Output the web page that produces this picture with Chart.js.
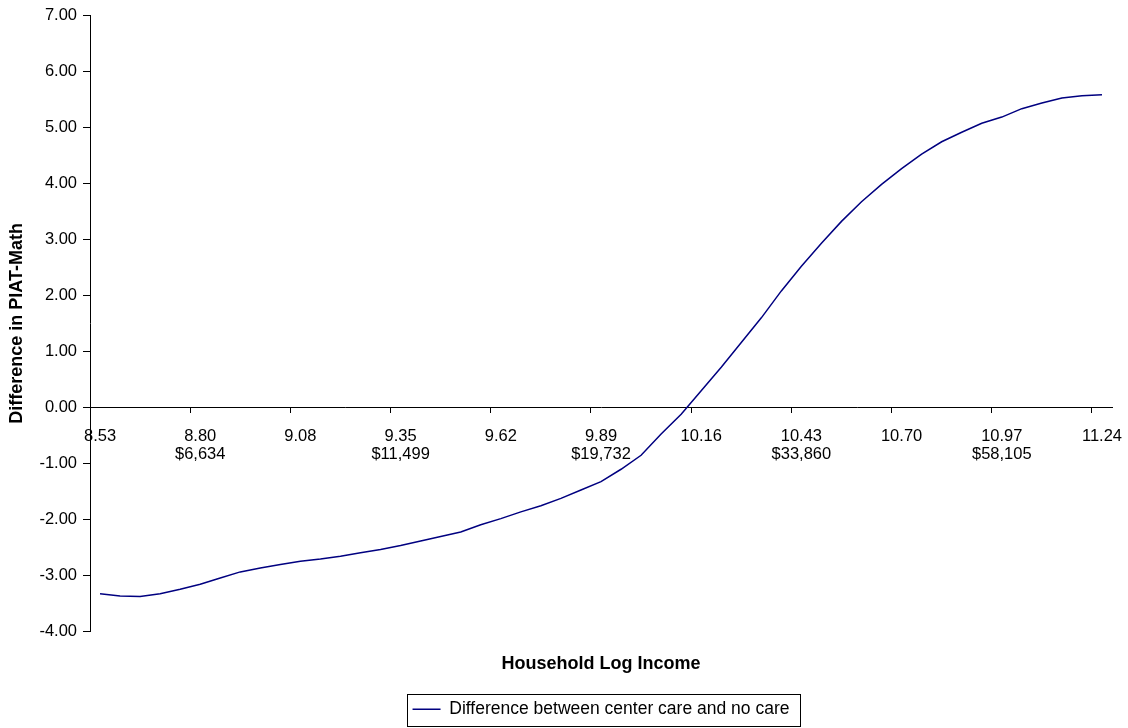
<!DOCTYPE html>
<html>
<head>
<meta charset="utf-8">
<title>Difference in PIAT-Math by Household Log Income</title>
<script src="https://cdn.jsdelivr.net/npm/chart.js@4.4.1/dist/chart.umd.min.js"></script>
<style>
    html, body { margin: 0; padding: 0; background: #fff; }
    #wrap { width: 1128px; height: 728px; }
</style>
</head>
<body>
<div id="wrap"><canvas id="chart" width="1128" height="728"></canvas></div>
<script>
// Tick labels shown every 5th category
const logIncomeTicks = ['8.53', '8.80', '9.08', '9.35', '9.62', '9.89', '10.16', '10.43', '10.70', '10.97', '11.24'];
const dollarTicks = ['', '$6,634', '', '$11,499', '', '$19,732', '', '$33,860', '', '$58,105', ''];

// Difference between center care and no care (51 points)
const diffValues = [
    -3.32, -3.36, -3.37, -3.32, -3.24, -3.15, -3.04, -2.93, -2.86, -2.80,
    -2.74, -2.70, -2.65, -2.59, -2.53, -2.46, -2.38, -2.30, -2.22, -2.09,
    -1.98, -1.86, -1.75, -1.62, -1.47, -1.32, -1.10, -0.85, -0.47, -0.12,
    0.30, 0.72, 1.16, 1.60, 2.08, 2.52, 2.93, 3.32, 3.67, 3.98,
    4.26, 4.52, 4.74, 4.91, 5.07, 5.18, 5.33, 5.43, 5.52, 5.56,
    5.58
];

const FONT = "'Liberation Sans', Arial, sans-serif";
const TICK_EVERY = 5;

// Draw the thin frame around the legend, like the original
const legendFrame = {
    id: 'legendFrame',
    afterDraw(chart) {
        const legend = chart.legend;
        if (!legend || !legend.legendHitBoxes || !legend.legendHitBoxes.length) return;
        const hb = legend.legendHitBoxes[0];
        const ctx = chart.ctx;
        ctx.save();
        ctx.strokeStyle = '#000';
        ctx.lineWidth = 1;
        const x = Math.round(hb.left - 6) + 0.5;
        const y = Math.round(hb.top - 7) + 0.5;
        const w = Math.round(hb.width + 16);
        const h = Math.round(hb.height + 14);
        ctx.strokeRect(x, y, w, h);
        ctx.restore();
    }
};

const ctx = document.getElementById('chart').getContext('2d');

new Chart(ctx, {
    type: 'line',
    data: {
        labels: diffValues.map((_, i) => i),
        datasets: [{
            label: 'Difference between center care and no care',
            data: diffValues,
            borderColor: '#000080',
            backgroundColor: '#000080',
            borderWidth: 1.5,
            pointRadius: 0,
            pointHoverRadius: 0,
            tension: 0,
            fill: false
        }]
    },
    options: {
        responsive: false,
        animation: false,
        events: [],
        layout: {
            padding: { left: 0, right: 16, top: 15, bottom: 0 }
        },
        plugins: {
            legend: {
                position: 'bottom',
                fullSize: false,
                labels: {
                    usePointStyle: true,
                    pointStyle: 'line',
                    pointStyleWidth: 28,
                    padding: 10,
                    color: '#000',
                    font: { family: FONT, size: 17.5 }
                }
            },
            title: {
                display: true,
                position: 'bottom',
                fullSize: false,
                weight: 500,
                text: 'Household Log Income',
                color: '#000',
                font: { family: FONT, size: 18, weight: 'bold', lineHeight: 1.2 },
                padding: { top: 21, bottom: 16 }
            },
            tooltip: { enabled: false }
        },
        scales: {
            x: {
                type: 'category',
                position: { y: 0 },
                offset: true,
                afterFit(scale) {
                    scale.height = 0;
                    scale.paddingLeft = 0;
                    scale.paddingRight = 0;
                },
                border: { display: true, color: '#000', width: 1 },
                grid: {
                    offset: true,
                    drawOnChartArea: false,
                    drawTicks: true,
                    tickLength: 5,
                    tickColor: (c) => (c.index !== undefined && c.index % TICK_EVERY === 0) ? '#000' : 'rgba(0,0,0,0)'
                },
                ticks: {
                    autoSkip: false,
                    maxRotation: 0,
                    minRotation: 0,
                    padding: 15,
                    color: '#000',
                    font: { family: FONT, size: 16.5, lineHeight: 1.08 },
                    callback: (value, index) => {
                        if (index % TICK_EVERY !== 0) return '';
                        const k = index / TICK_EVERY;
                        return dollarTicks[k] ? [logIncomeTicks[k], dollarTicks[k]] : logIncomeTicks[k];
                    }
                }
            },
            y: {
                position: 'left',
                min: -4,
                max: 7,
                afterFit(scale) {
                    scale.width = 90;
                    scale.paddingTop = 0;
                    scale.paddingBottom = 0;
                },
                border: { display: true, color: '#000', width: 1 },
                grid: {
                    drawOnChartArea: false,
                    drawTicks: true,
                    tickLength: 7,
                    tickColor: '#000'
                },
                ticks: {
                    stepSize: 1,
                    padding: 6,
                    color: '#000',
                    font: { family: FONT, size: 16.5 },
                    callback: (v) => Number(v).toFixed(2)
                },
                title: {
                    display: true,
                    text: 'Difference in PIAT-Math',
                    color: '#000',
                    font: { family: FONT, size: 18, weight: 'bold', lineHeight: 1.2 },
                    padding: { top: 6, bottom: 0 }
                }
            }
        }
    },
    plugins: [legendFrame]
});
</script>
</body>
</html>
